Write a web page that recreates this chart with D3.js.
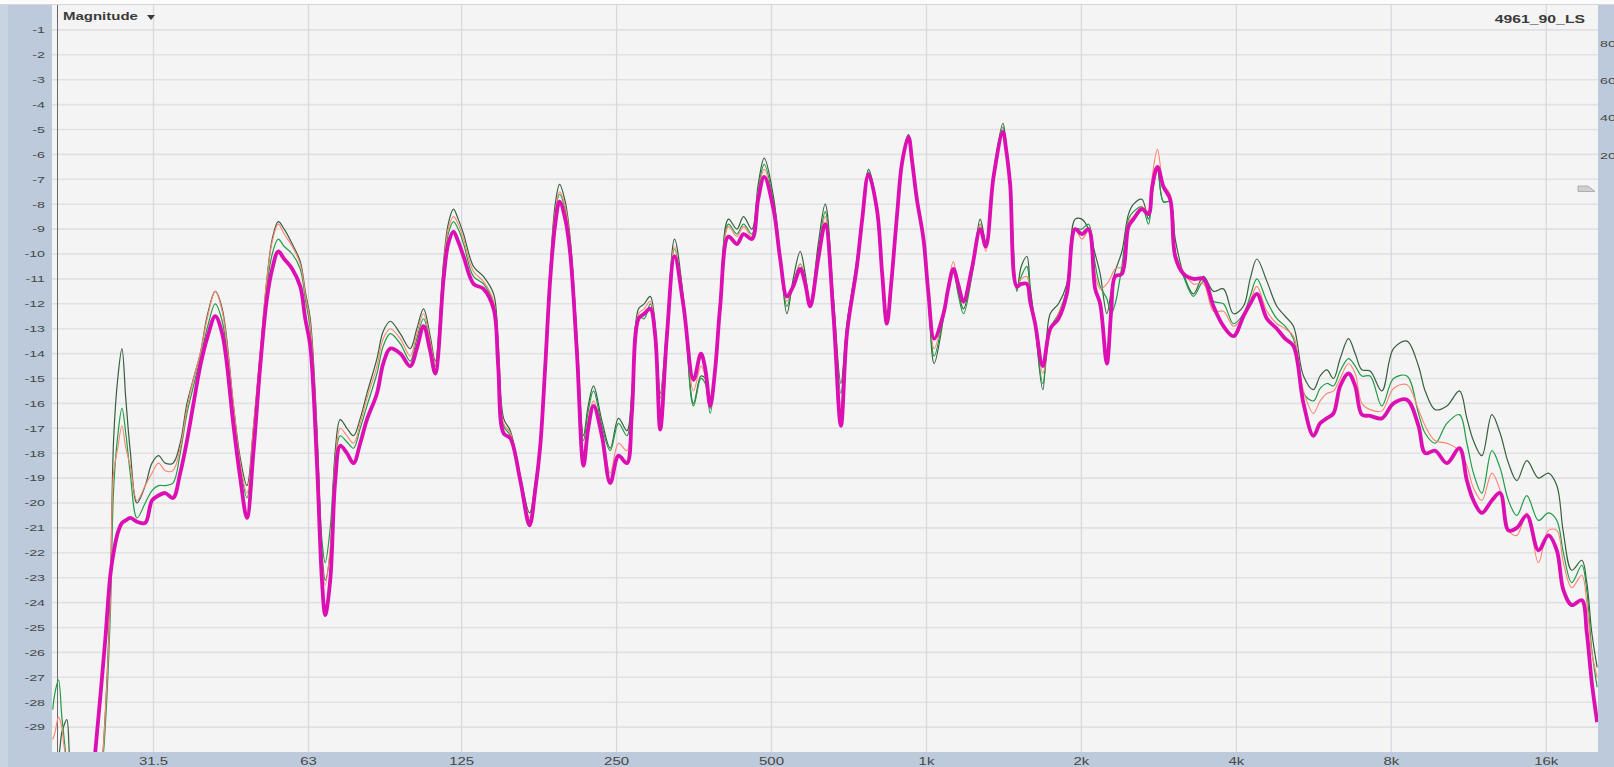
<!DOCTYPE html>
<html><head><meta charset="utf-8">
<script src="https://cdn.jsdelivr.net/npm/d3@7"></script>
<style>html,body{margin:0;padding:0;background:#fff;overflow:hidden}svg{display:block}</style>
</head><body>
<script>
// ---- data ----
const freqHz = [20.06,20.28,20.59,20.90,21.05,21.37,21.69,22.68,23.73,24.27,24.82,25.38,25.96,26.34,26.84,27.35,27.82,28.38,29.25,30.35,31.28,32.21,33.19,34.36,35.49,36.58,37.67,38.82,40.14,41.51,42.83,45.05,46.43,47.84,49.23,50.77,52.31,53.57,55.03,56.52,58.59,60.72,62.10,63.50,65.43,66.91,67.90,69.44,71.01,72.62,74.82,77.06,79.41,81.83,85.58,88.02,90.82,94.97,99.31,102.3,105.4,108.6,111.1,115.3,117.7,120.5,123.1,126.1,131.8,137.8,144.2,147.2,150.8,155.4,162.5,169.4,173.7,177.7,181.7,185.8,190.0,193.7,198.7,203.2,209.4,215.6,220.2,225.5,234.1,243.0,252.2,261.8,267.7,275.8,282.9,290.6,297.2,303.9,313.1,324.0,337.3,352.7,364.6,371.7,380.1,388.7,397.4,412.4,428.2,441.1,458.0,471.1,483.9,504.4,519.8,535.6,550.9,568.5,581.4,594.5,616.2,635.8,659.8,682.0,700.6,732.6,750.2,771.6,801.1,820.3,837.7,854.0,876.1,897.1,922.7,938.1,958.0,986.7,1008,1035,1079,1102,1128,1152,1180,1225,1272,1304,1350,1408,1428,1454,1498,1528,1567,1590,1626,1683,1739,1805,1874,1945,2004,2064,2127,2175,2241,2285,2326,2397,2469,2525,2621,2700,2745,2811,2887,2975,3043,3158,3302,3453,3611,3776,3949,4129,4255,4385,4586,4795,4976,5165,5401,5647,5819,5997,6177,6365,6606,6807,7014,7279,7669,8079,8578,9034,9309,9735,10258,10853,11219,11555,11997,12545,13019,13512,14029,14670,15451,16157,16776,17278,17939,18759,19183,19616,20094];

const darkGreenDb = [-31,-30.5,-30.2,-29.2,-29.0,-28.7,-30.5,-33,-34,-33,-31.5,-28.5,-23.5,-17.5,-15.0,-13.8,-15.8,-17.9,-20.0,-19.3,-18.4,-18.1,-18.4,-18.4,-17.6,-16.0,-15.0,-14.0,-12.4,-11.5,-12.2,-16.1,-18.2,-19.3,-17.0,-14.0,-11.0,-9.4,-8.7,-9.0,-9.6,-10.3,-11.5,-12.6,-17.0,-22.0,-23.1,-22.0,-17.9,-16.65,-17.0,-17.3,-16.6,-15.6,-14.2,-13.1,-12.7,-13.2,-13.8,-13.0,-12.2,-13.3,-14.3,-10.3,-8.8,-8.2,-8.6,-9.2,-10.5,-10.9,-11.6,-13.6,-16.6,-17.1,-18.9,-20.4,-19.2,-17.4,-14.0,-10.5,-8.0,-7.2,-7.9,-9.4,-13.3,-17.3,-16.1,-15.3,-16.7,-17.8,-16.6,-17.1,-15.5,-12.2,-12.0,-11.7,-12.9,-15.6,-12.9,-9.4,-11.8,-16.0,-14.9,-15.0,-16.2,-14.5,-11.8,-8.6,-9.0,-8.5,-9.0,-7.2,-6.15,-7.7,-10.1,-12.4,-11.0,-9.9,-10.8,-12.0,-9.6,-8.0,-11.8,-15.2,-12.8,-10.2,-8.4,-6.6,-8.1,-10.7,-12.8,-11.1,-8.4,-6.2,-5.2,-6.2,-7.8,-9.5,-11.7,-14.4,-12.6,-11.5,-10.6,-11.5,-12.2,-10.8,-8.6,-9.5,-6.7,-4.75,-5.6,-7.1,-11.5,-10.5,-10.1,-11.3,-12.9,-15.45,-12.4,-12.0,-11.2,-8.6,-8.6,-9.0,-10.0,-10.8,-12.4,-11.5,-10.7,-9.9,-8.4,-8.0,-7.8,-8.6,-7.5,-6.6,-7.9,-7.9,-9.4,-10.8,-11.6,-10.9,-11.5,-11.4,-12.4,-12.1,-11.0,-10.2,-11.1,-12.1,-12.5,-12.9,-14.9,-15.45,-14.9,-14.65,-15.0,-14.2,-13.4,-14.0,-14.65,-14.7,-15.5,-13.8,-13.5,-14.5,-15.5,-16.25,-16.1,-15.5,-16.6,-17.5,-18.1,-16.45,-17.2,-18.4,-19.1,-18.3,-19.0,-18.8,-19.3,-21.2,-22.7,-22.3,-23.2,-25.2,-26.6];

const greenDb = [-28.3,-27.6,-27.1,-28.6,-29.2,-30.5,-32,-33,-34,-33,-31.5,-29,-24.5,-19.5,-17.3,-16.2,-17.2,-18.8,-20.6,-20.0,-19.5,-19.3,-19.3,-19.2,-18.0,-16.4,-15.3,-14.2,-12.9,-12.0,-12.7,-16.4,-18.5,-19.8,-17.4,-14.2,-11.3,-10.0,-9.4,-9.7,-10.0,-10.6,-11.8,-13.0,-17.5,-21.5,-22.4,-21.0,-18.2,-17.3,-17.55,-17.8,-17.0,-16.1,-14.8,-13.7,-13.2,-13.6,-14.3,-13.4,-12.6,-13.6,-14.5,-10.6,-9.2,-8.7,-9.0,-9.6,-10.9,-11.2,-12.0,-14.0,-16.9,-17.3,-19.0,-20.7,-19.4,-17.6,-14.2,-10.7,-8.4,-7.6,-8.2,-9.7,-13.6,-17.5,-16.3,-15.5,-16.9,-17.9,-16.8,-17.3,-15.8,-12.5,-12.6,-12.0,-13.1,-15.8,-13.1,-9.8,-12.0,-16.1,-15.0,-15.2,-16.4,-14.6,-11.9,-8.8,-9.2,-8.8,-9.2,-7.4,-6.4,-7.9,-10.2,-12.1,-11.2,-10.4,-11.0,-12.0,-9.9,-8.3,-12.1,-15.6,-12.9,-10.4,-8.5,-6.7,-8.2,-10.8,-12.8,-11.1,-8.4,-6.2,-5.2,-6.25,-7.8,-9.5,-11.6,-14.1,-12.5,-11.5,-10.7,-11.6,-12.4,-10.9,-8.8,-9.6,-6.8,-4.9,-5.7,-7.1,-11.4,-10.9,-10.5,-11.5,-12.9,-15.2,-13.0,-12.4,-11.4,-9.0,-9.0,-8.8,-10.4,-11.3,-11.8,-12.4,-12.0,-10.5,-8.6,-8.3,-8.1,-8.8,-7.6,-6.6,-7.9,-7.9,-9.9,-10.9,-11.7,-11.1,-11.9,-12.0,-12.8,-12.4,-11.7,-11.0,-11.9,-12.6,-12.9,-13.4,-15.6,-15.9,-15.4,-15.2,-15.3,-14.7,-14.2,-14.5,-14.9,-14.9,-16.1,-15.0,-14.9,-16.4,-17.2,-17.6,-16.8,-16.45,-17.6,-18.8,-19.6,-17.9,-18.6,-19.9,-20.5,-19.7,-20.7,-20.4,-20.7,-22.0,-23.2,-22.5,-23.5,-25.9,-27.4];

const salmonDb = [-29.5,-29.2,-28.6,-29.0,-29.6,-30.5,-32,-33,-34,-33,-31.5,-28.5,-24,-18.8,-17.8,-16.9,-17.8,-18.5,-19.9,-19.3,-18.8,-18.4,-18.7,-18.7,-17.8,-16.2,-15.0,-14.0,-12.5,-11.5,-12.3,-16.1,-18.4,-19.6,-17.0,-13.9,-11.0,-9.5,-8.8,-9.2,-9.7,-10.4,-11.6,-12.8,-17.3,-22.3,-23.3,-21.8,-18.3,-17.0,-17.3,-17.6,-16.8,-15.8,-14.5,-13.4,-13.0,-13.4,-14.1,-13.2,-12.4,-13.5,-14.4,-10.5,-9.0,-8.5,-8.8,-9.4,-10.7,-11.1,-11.9,-13.9,-16.8,-17.2,-19.0,-20.6,-19.3,-17.5,-14.1,-10.6,-8.3,-7.5,-8.1,-9.6,-13.5,-18.0,-16.7,-15.9,-17.1,-18.8,-17.6,-17.9,-15.9,-12.4,-12.2,-11.9,-13.0,-15.8,-13.0,-9.7,-11.9,-15.5,-14.5,-14.9,-16.2,-14.6,-11.9,-8.9,-9.3,-8.9,-9.3,-7.5,-6.6,-8.0,-10.2,-11.9,-11.2,-10.4,-11.0,-12.0,-10.0,-8.5,-12.2,-16.1,-13.0,-10.4,-8.5,-6.75,-8.2,-10.8,-12.8,-11.2,-8.5,-6.3,-5.25,-6.3,-7.8,-9.5,-11.6,-13.8,-12.4,-11.2,-10.3,-11.3,-12.0,-10.8,-8.8,-9.9,-6.8,-5.0,-5.7,-7.1,-11.3,-11.0,-10.9,-11.8,-12.8,-14.8,-13.2,-12.4,-11.5,-9.0,-9.4,-9.1,-10.8,-11.4,-11.2,-10.9,-10.6,-10.5,-8.7,-8.5,-8.1,-8.3,-6.9,-5.8,-7.2,-7.6,-10.0,-10.7,-11.2,-11.2,-12.3,-12.3,-12.9,-12.5,-11.9,-11.3,-12.3,-12.8,-13.0,-13.3,-15.5,-16.4,-15.9,-15.6,-15.5,-15.0,-14.4,-14.8,-16.0,-16.25,-16.3,-15.4,-15.25,-16.25,-16.9,-17.5,-17.6,-17.9,-18.5,-19.4,-19.9,-18.8,-19.5,-21.1,-21.3,-20.4,-22.4,-21.1,-21.1,-22.4,-23.4,-22.9,-24.0,-26.0,-27.0];

const magentaDb = [-34,-34,-34,-34,-34,-34,-34,-34,-32.5,-30.0,-27.8,-25.5,-22.9,-22.0,-21.2,-20.8,-20.7,-20.6,-20.75,-20.8,-19.9,-19.7,-19.6,-19.8,-18.8,-17.5,-16.0,-14.5,-13.3,-12.5,-13.2,-16.9,-19.0,-20.6,-18.0,-14.5,-11.8,-10.6,-9.9,-10.2,-10.6,-11.3,-12.6,-13.7,-18.4,-23.1,-24.5,-23.1,-19.1,-17.7,-18.0,-18.4,-17.6,-16.65,-15.6,-14.4,-13.8,-14.0,-14.5,-13.8,-12.9,-13.9,-14.8,-11.0,-9.6,-9.1,-9.5,-10.1,-11.2,-11.4,-12.2,-14.5,-17.2,-17.4,-19.1,-20.9,-19.5,-17.7,-14.5,-11.0,-8.8,-7.9,-8.6,-10.0,-14.0,-18.5,-17.0,-16.1,-17.3,-19.2,-18.1,-18.4,-16.4,-12.6,-12.4,-12.2,-13.3,-17.05,-13.3,-10.1,-12.1,-15.05,-14.0,-14.6,-16.1,-14.6,-12.1,-9.3,-9.6,-9.2,-9.4,-7.8,-6.9,-8.2,-10.2,-11.7,-11.3,-10.6,-11.2,-12.1,-10.2,-8.8,-12.5,-16.9,-13.2,-10.5,-8.6,-6.8,-8.2,-10.8,-12.8,-11.2,-8.5,-6.3,-5.3,-6.3,-7.8,-9.4,-11.5,-13.4,-12.4,-11.4,-10.6,-11.2,-11.9,-10.6,-9.0,-9.7,-6.9,-5.1,-5.8,-7.2,-11.3,-11.2,-11.2,-11.9,-12.8,-14.5,-13.0,-12.6,-11.6,-9.0,-9.2,-9.0,-11.4,-12.0,-14.4,-12.3,-10.9,-10.8,-8.9,-8.6,-8.2,-8.4,-7.3,-6.5,-7.3,-7.8,-10.1,-10.8,-11.0,-11.0,-12.1,-12.9,-13.3,-12.5,-12.0,-11.6,-12.6,-13.0,-13.4,-13.7,-16.0,-17.3,-16.8,-16.6,-16.4,-15.3,-14.8,-15.3,-16.45,-16.5,-16.6,-16.0,-15.85,-16.9,-18.0,-17.9,-18.4,-17.8,-19.1,-19.9,-20.4,-19.9,-19.6,-21.1,-21.0,-20.5,-21.9,-21.3,-21.9,-23.5,-24.1,-23.9,-25.2,-27.2,-28.8];

const xTickValues = [31.5,63,125,250,500,1000,2000,4000,8000,16000];
const xTickLabels = ["31.5","63","125","250","500","1k","2k","4k","8k","16k"];
const yTickValues = [-1,-2,-3,-4,-5,-6,-7,-8,-9,-10,-11,-12,-13,-14,-15,-16,-17,-18,-19,-20,-21,-22,-23,-24,-25,-26,-27,-28,-29];
const rightTickLabels = ["80","60","40","20"];

// ---- layout ----
const W = 1614, H = 767;
const L = 52, R = 1598, T = 5, B = 752;
const svg = d3.select("body").append("svg").attr("width", W).attr("height", H);

const x = d3.scaleLog().domain([20, 20170]).range([L, R]);
const y = d3.scaleLinear().domain([-30, 0]).range([B, T]);

const panel = "#bccadb";
svg.append("rect").attr("x",0).attr("y",0).attr("width",W).attr("height",H).attr("fill","#fbfbfb");
svg.append("rect").attr("x",0).attr("y",T).attr("width",L).attr("height",H-T).attr("fill",panel);
svg.append("rect").attr("x",0).attr("y",T).attr("width",8).attr("height",H-T).attr("fill","#c9d4e2");
svg.append("rect").attr("x",8).attr("y",B).attr("width",W-8).attr("height",H-B).attr("fill",panel);
svg.append("rect").attr("x",R).attr("y",T).attr("width",W-R).attr("height",H-T).attr("fill",panel);
svg.append("rect").attr("x",L).attr("y",T).attr("width",R-L).attr("height",B-T).attr("fill","#f4f4f4");
svg.append("line").attr("x1",0).attr("x2",W).attr("y1",T-0.5).attr("y2",T-0.5).attr("stroke","#d4d6da").attr("stroke-width",1);

// grid
const grid = svg.append("g");
grid.selectAll("line.h").data(yTickValues).join("line")
  .attr("x1",L).attr("x2",R).attr("y1",d=>y(d)).attr("y2",d=>y(d))
  .attr("stroke","#e1e1e4").attr("stroke-width",1.6);
grid.selectAll("line.v").data(xTickValues).join("line")
  .attr("y1",T).attr("y2",B).attr("x1",d=>x(d)).attr("x2",d=>x(d))
  .attr("stroke","#d7d9df").attr("stroke-width",1.3);
svg.append("line").attr("x1",57.5).attr("x2",57.5).attr("y1",T).attr("y2",B)
  .attr("stroke","#6a6a6a").attr("stroke-width",1);

// curves
svg.append("clipPath").attr("id","plotclip").append("rect")
  .attr("x",L).attr("y",T).attr("width",R-L).attr("height",B-T);
const line = d3.line().x(d=>x(d[0])).y(d=>y(d[1])).curve(d3.curveCatmullRom.alpha(0.5));
const series = [
  {v: darkGreenDb, c: "#36603c", w: 1.2},
  {v: greenDb, c: "#1f9c45", w: 1.2},
  {v: salmonDb, c: "#ff8472", w: 1.1},
  {v: magentaDb, c: "#dc0fb2", w: 3.8}
];
const cg = svg.append("g").attr("clip-path","url(#plotclip)");
series.forEach(s => {
  cg.append("path").datum(freqHz.map((f,i)=>[f, s.v[i]]))
    .attr("d", line).attr("fill","none").attr("stroke", s.c)
    .attr("stroke-width", s.w).attr("stroke-linejoin","round");
});

// text helpers (reference text is horizontally stretched)
const SX = 1.5;
function stext(px, py, str, opts) {
  return svg.append("text")
    .attr("transform", `translate(${px},${py}) scale(${SX},1)`)
    .attr("x",0).attr("y",0)
    .attr("font-family","'Liberation Sans', Arial, sans-serif")
    .attr("font-size", opts.size)
    .attr("font-weight", opts.weight || "normal")
    .attr("fill", opts.fill || "#4a4a4a")
    .attr("text-anchor", opts.anchor || "start")
    .text(str);
}
yTickValues.forEach(v => stext(45, y(v)+3.3, String(v), {size: 9.5, anchor: "end", fill:"#474747"}));
xTickValues.forEach((v,i) => stext(x(v), 765, xTickLabels[i], {size: 10, anchor: "middle", fill:"#474747"}));
rightTickLabels.forEach((t,i) => stext(1600, 47 + i*37.2, t, {size: 9.5, fill:"#474747"}));

stext(63, 20, "Magnitude", {size: 10, weight: "bold", fill: "#3a3a3a"});
svg.append("path").attr("d","M147,15 L155,15 L151,20 Z").attr("fill","#3a3a3a");
stext(1585, 22.5, "4961_90_LS", {size: 10.5, weight: "bold", fill: "#3a3a3a", anchor: "end"});

// small flag marker at right
svg.append("path").attr("d","M1578,186 L1588,186 L1595,191.5 L1578,191.5 Z")
  .attr("fill","#cfcfcf").attr("stroke","#9a9a9a").attr("stroke-width",0.7);
</script>
</body></html>
